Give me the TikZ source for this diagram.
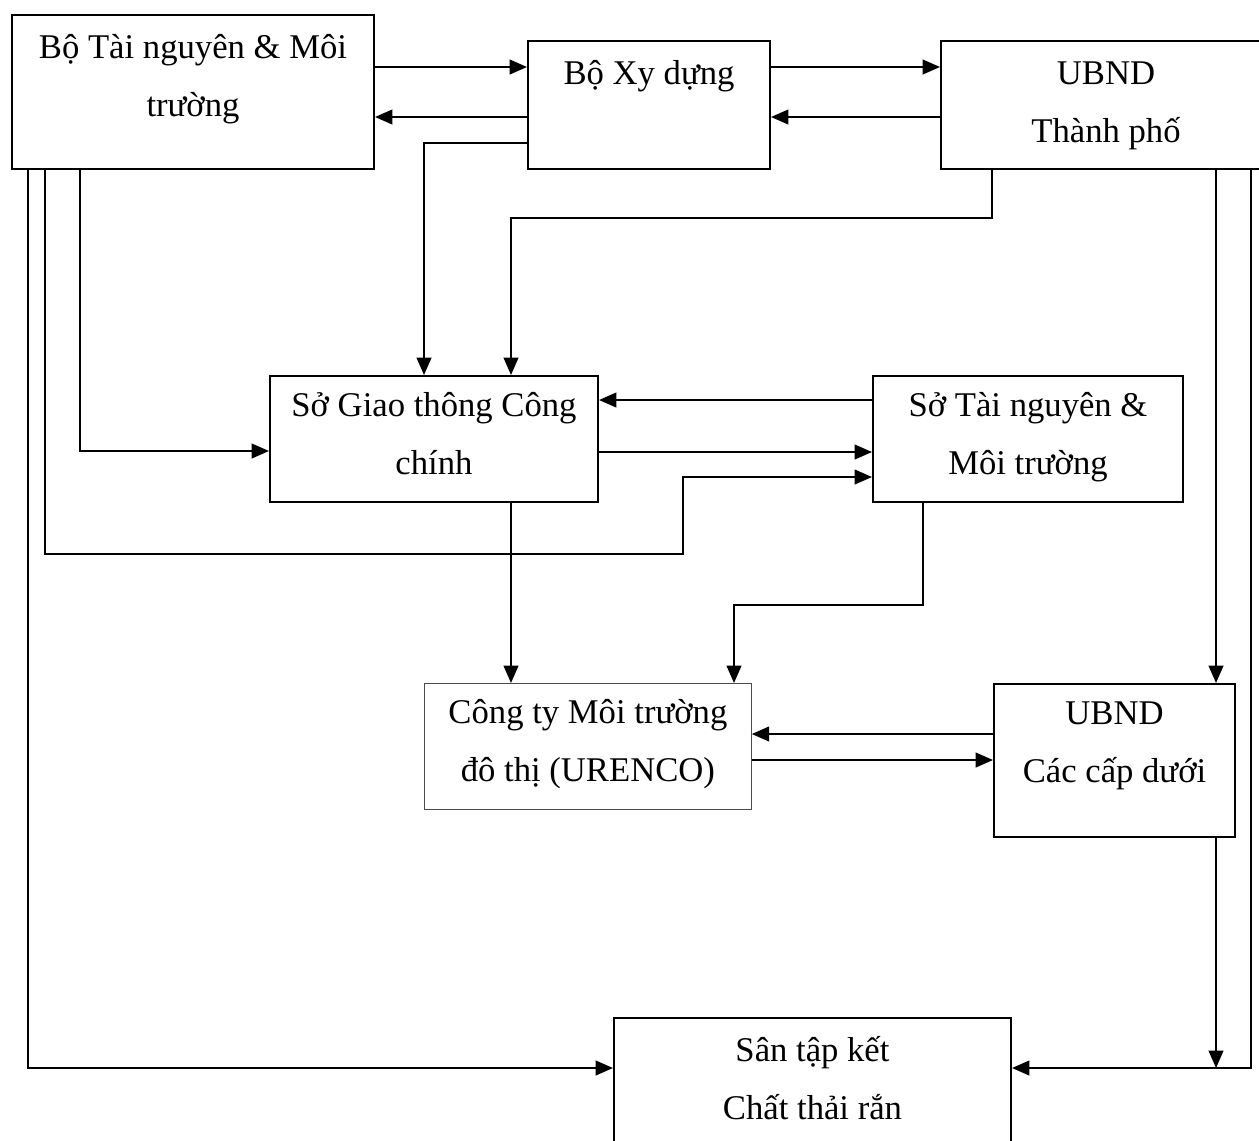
\documentclass[tikz,border=0pt]{standalone}
\usepackage{fontspec}
\setmainfont{Liberation Serif}
\usetikzlibrary{arrows.meta}

\tikzset{every picture/.style={line width=1.5pt}}
\tikzset{
  box/.style={draw, line width=1.5pt, anchor=north west, inner sep=0pt, align=center,
    font=\fontsize{26}{43.5}\selectfont},
  arr/.style={-{Triangle[length=13pt,width=11pt]}},
}

\begin{document}
\begin{tikzpicture}[x=0.75pt,y=0.75pt,yscale=-1,xscale=1]
  \useasboundingbox (0,0) rectangle (1259,1140);
  \clip (0,0) rectangle (1259,1140);

  %Boxes
  \node [box, minimum width=271.5pt, text height=75.75pt, text depth=39.75pt] (btn) at (11,14) {Bộ Tài nguyên \& Môi\\trường};
  \node [box, minimum width=181.5pt, text height=32.25pt, text depth=63.75pt] (bxd) at (527,40) {Bộ Xy dựng};
  \node [box, minimum width=247.5pt, text height=75.75pt, text depth=20.25pt] (ubtp) at (940,40) {UBND\\Thành phố};
  \node [box, minimum width=246pt, text height=73.5pt, text depth=21pt] (sgt) at (269,375) {Sở Giao thông Công\\chính};
  \node [box, minimum width=232.5pt, text height=73.5pt, text depth=21pt] (stn) at (872,375) {Sở Tài nguyên \&\\Môi trường};
  \node [box, draw=black!70, line width=0.6pt, minimum width=245.25pt, text height=73.5pt, text depth=21pt] (uren) at (424,683) {Công ty Môi trường\\đô thị (URENCO)};
  \node [box, minimum width=180.75pt, text height=73.5pt, text depth=41.25pt] (ubcd) at (993,683) {UBND\\Các cấp dưới};
  \node [box, minimum width=297.75pt, text height=75.75pt, text depth=31.5pt] (san) at (613,1017) {Sân tập kết\\Chất thải rắn};

  %Top row
  \draw [arr] (btn.east |- 0,67) -- (bxd.west |- 0,67);
  \draw [arr] (bxd.west |- 0,117) -- (btn.east |- 0,117);
  \draw [arr] (bxd.east |- 0,67) -- (ubtp.west |- 0,67);
  \draw [arr] (ubtp.west |- 0,117) -- (bxd.east |- 0,117);

  %Down to So Giao thong Cong chinh
  \draw [arr] (bxd.west |- 0,143) -- (424,143) -- (sgt.north -| 424,0);
  \draw [arr] (ubtp.south -| 992,0) -- (992,218) -- (511,218) -- (sgt.north -| 511,0);
  \draw [arr] (btn.south -| 80,0) -- (80,451) -- (sgt.west |- 0,451);
  \draw [arr] (btn.south -| 45,0) -- (45,554) -- (683,554) -- (683,477) -- (stn.west |- 0,477);
  \draw [arr] (btn.south -| 28,0) -- (28,1068) -- (san.west |- 0,1068);

  %Middle row
  \draw [arr] (stn.west |- 0,400) -- (sgt.east |- 0,400);
  \draw [arr] (sgt.east |- 0,452) -- (stn.west |- 0,452);
  \draw [arr] (sgt.south -| 511,0) -- (uren.north -| 511,0);
  \draw [arr] (stn.south -| 923,0) -- (923,605) -- (734,605) -- (uren.north -| 734,0);

  %Bottom
  \draw [arr] (ubcd.west |- 0,734) -- (uren.east |- 0,734);
  \draw [arr] (uren.east |- 0,760) -- (ubcd.west |- 0,760);
  \draw [arr] (ubtp.south -| 1216,0) -- (ubcd.north -| 1216,0);
  \draw [arr] (ubcd.south -| 1216,0) -- (1216,1068);
  \draw [arr] (ubtp.south -| 1251,0) -- (1251,1068) -- (san.east |- 0,1068);

\end{tikzpicture}
\end{document}
